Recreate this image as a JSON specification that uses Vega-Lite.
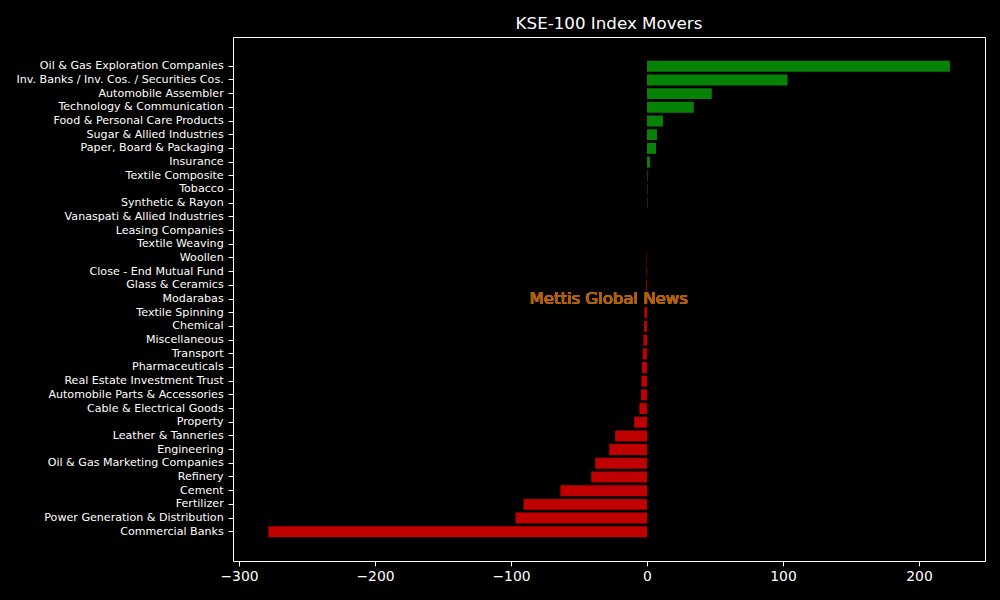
{
  "$schema": "https://vega.github.io/schema/vega-lite/v6.json",
  "width": 752,
  "height": 524,
  "autosize": {"type": "none"},
  "padding": {"left": 233, "top": 37, "right": 15, "bottom": 39},
  "background": "black",
  "config": {
    "view": {"stroke": "white", "strokeWidth": 1, "fill": "black"},
    "font": "DejaVu Sans"
  },
  "title": {
    "text": "KSE-100 Index Movers",
    "color": "white",
    "fontSize": 16.7,
    "fontWeight": "normal",
    "font": "DejaVu Sans",
    "anchor": "middle",
    "offset": 4
  },
  "data": {
    "values": [
      {"sector": "Oil & Gas Exploration Companies", "value": 222.7},
      {"sector": "Inv. Banks / Inv. Cos. / Securities Cos.", "value": 103.3},
      {"sector": "Automobile Assembler", "value": 47.6},
      {"sector": "Technology & Communication", "value": 34.4},
      {"sector": "Food & Personal Care Products", "value": 11.7},
      {"sector": "Sugar & Allied Industries", "value": 7.3},
      {"sector": "Paper, Board & Packaging", "value": 6.6},
      {"sector": "Insurance", "value": 2.2},
      {"sector": "Textile Composite", "value": 0.4},
      {"sector": "Tobacco", "value": 0.3},
      {"sector": "Synthetic & Rayon", "value": 0.3},
      {"sector": "Vanaspati & Allied Industries", "value": 0},
      {"sector": "Leasing Companies", "value": 0},
      {"sector": "Textile Weaving", "value": 0},
      {"sector": "Woollen", "value": -0.3},
      {"sector": "Close - End Mutual Fund", "value": -0.4},
      {"sector": "Glass & Ceramics", "value": -0.6},
      {"sector": "Modarabas", "value": -1.0},
      {"sector": "Textile Spinning", "value": -2.0},
      {"sector": "Chemical", "value": -2.2},
      {"sector": "Miscellaneous", "value": -2.7},
      {"sector": "Transport", "value": -3.2},
      {"sector": "Pharmaceuticals", "value": -3.7},
      {"sector": "Real Estate Investment Trust", "value": -4.1},
      {"sector": "Automobile Parts & Accessories", "value": -4.4},
      {"sector": "Cable & Electrical Goods", "value": -5.6},
      {"sector": "Property", "value": -9.5},
      {"sector": "Leather & Tanneries", "value": -23.4},
      {"sector": "Engineering", "value": -27.8},
      {"sector": "Oil & Gas Marketing Companies", "value": -38.1},
      {"sector": "Refinery", "value": -41.0},
      {"sector": "Cement", "value": -63.7},
      {"sector": "Fertilizer", "value": -90.8},
      {"sector": "Power Generation & Distribution", "value": -96.7},
      {"sector": "Commercial Banks", "value": -278.4}
    ]
  },
  "layer": [
    {
      "mark": {"type": "bar"},
      "encoding": {
        "y": {
          "field": "sector",
          "type": "nominal",
          "sort": null,
          "scale": {"paddingInner": 0.2, "paddingOuter": 1, "range": [10.1, 513.9]},
          "axis": {
            "title": null,
            "labelColor": "white",
            "labelFontSize": 11.1,
            "labelFont": "DejaVu Sans",
            "tickColor": "white",
            "tickSize": 4.9,
            "labelPadding": 4.9,
            "domain": false,
            "labelLimit": 400
          }
        },
        "x": {
          "field": "value",
          "type": "quantitative",
          "scale": {"domain": [-304.4, 248.5], "nice": false, "zero": false},
          "axis": {
            "title": null,
            "values": [-300, -200, -100, 0, 100, 200],
            "format": "d",
            "labelExpr": "replace(datum.label, '-', '−')",
            "labelColor": "white",
            "labelFontSize": 13.9,
            "labelFont": "DejaVu Sans",
            "tickColor": "white",
            "tickSize": 4.9,
            "labelPadding": 4,
            "grid": false,
            "domain": false
          }
        },
        "color": {
          "condition": {"test": "datum.value >= 0", "value": "#078207"},
          "value": "#c00000"
        }
      }
    },
    {
      "mark": {
        "type": "text",
        "text": "Mettis Global News",
        "fill": "#b0600e",
        "fontSize": 16.5,
        "fontWeight": 400,
        "font": "DejaVu Sans",
        "align": "center",
        "baseline": "middle"
      },
      "encoding": {
        "x": {"datum": -28.2},
        "y": {"datum": "Modarabas"}
      }
    }
  ]
}
